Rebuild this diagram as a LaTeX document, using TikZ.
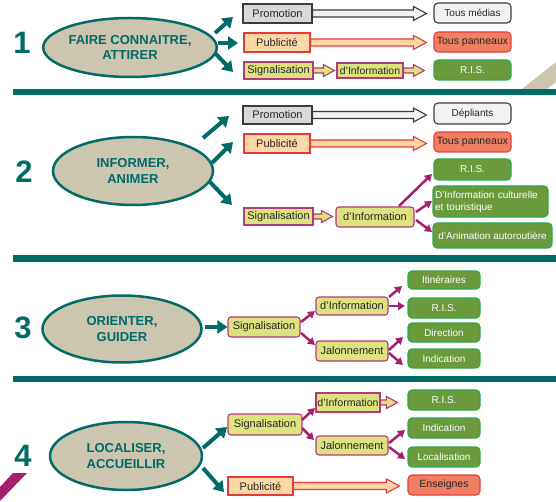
\documentclass[tikz,border=0pt]{standalone}
\usepackage{fontspec}
\setmainfont{Liberation Sans}
\usetikzlibrary{shapes.geometric,arrows.meta,calc}
\definecolor{teal1}{RGB}{0,107,103}
\definecolor{tan1}{RGB}{204,197,176}
\definecolor{mag1}{RGB}{166,31,110}
\definecolor{greyfill}{RGB}{216,216,216}
\definecolor{greydraw}{RGB}{60,60,60}
\definecolor{lightfill}{RGB}{242,242,242}
\definecolor{pubfill}{RGB}{253,215,166}
\definecolor{pubdraw}{RGB}{230,58,60}
\definecolor{sigfill}{RGB}{221,226,126}
\definecolor{sigdraw}{RGB}{178,58,125}
\definecolor{greenfill}{RGB}{107,154,60}
\definecolor{greendraw}{RGB}{45,168,74}
\definecolor{salfill}{RGB}{240,127,98}
\definecolor{saldraw}{RGB}{230,60,60}
\newcommand{\harr}[6]{\draw[#1] let \p1=(#2), \p2=(#3) in (\x1,\y1+#4) -- (\x2-#6,\y1+#4) -- (\x2-#6,\y1+#5) -- (\x2,\y1) -- (\x2-#6,\y1-#5) -- (\x2-#6,\y1-#4) -- (\x1,\y1-#4) -- cycle;}
\begin{document}
\begin{tikzpicture}[x=1pt,y=-1pt,
  boxbase/.style={draw, line width=1.1pt, inner sep=1pt, text=black!85, font=\fontsize{11}{13}\selectfont},
  greyb/.style={boxbase, fill=greyfill, draw=greydraw},
  lightb/.style={boxbase, rounded corners=4pt, fill=lightfill, draw=greydraw, font=\fontsize{10}{12}\selectfont},
  pubb/.style={boxbase, fill=pubfill, draw=pubdraw},
  sigb/.style={boxbase, fill=sigfill, draw=sigdraw},
  sigr/.style={sigb, rounded corners=3pt},
  greenb/.style={boxbase, rounded corners=4pt, fill=greenfill, draw=greendraw, text=white, font=\fontsize{10}{12}\selectfont},
  salb/.style={boxbase, rounded corners=4pt, fill=salfill, draw=saldraw, font=\fontsize{10.5}{12}\selectfont},
  ell/.style={ellipse, draw=teal1, line width=2.5pt, fill=tan1, inner sep=0pt, align=center, text=teal1, font=\fontsize{13}{15.5}\selectfont\bfseries},
  num/.style={text=teal1, font=\fontsize{31}{31}\selectfont\bfseries},
  band/.style={fill=teal1},
  tarr/.style={draw=teal1, line width=4pt, -{Triangle[length=10pt,width=13pt]}},
  marr/.style={draw=mag1, line width=2.5pt, -{Triangle[length=7pt,width=8pt]}},
  hgrey/.style={fill=lightfill, draw=greydraw, line width=1.1pt},
  hpub/.style={fill=pubfill, draw=pubdraw, line width=1.1pt},
  hsig/.style={fill=sigfill, draw=sigdraw, line width=1.1pt}
]
\useasboundingbox (0,0) rectangle (556,502);
% decorations
\fill[tan1] (522,89) -- (547,89) -- (556,82) -- (556,62) -- cycle;
\fill[mag1] (13,473) -- (27,473) -- (0,501) -- (0,487) -- cycle;
\fill[band] (13,89) rectangle (556,95);
\fill[band] (13,255) rectangle (556,262);
\fill[band] (13,376) rectangle (556,382);

% ===== Section 1 =====
\node[num] (n1) at (22,43) {1};
\node[ell, minimum width=170, minimum height=59] (e1) at (130,47.5) {FAIRE CONNAITRE,\\ATTIRER};
\node[greyb, minimum width=69, minimum height=19] (p1) at (277.5,13.5) {Promotion};
\node[pubb, minimum width=66, minimum height=19] (pub1) at (277,42.5) {Publicité};
\node[sigb, minimum width=69, minimum height=17] (sig1) at (278.5,70.5) {Signalisation};
\node[sigb, minimum width=66, minimum height=15, font=\fontsize{10.4}{12}\selectfont] (inf1) at (370,70.5) {d'Information};
\node[lightb, minimum width=77, minimum height=20] (tm1) at (472.5,13) {Tous médias};
\node[salb, minimum width=77, minimum height=20] (tp1) at (472.5,42) {Tous panneaux};
\node[greenb, minimum width=77, minimum height=20] (ris1) at (472.5,70) {R.I.S.};
\coordinate (a11s) at (215,33); \coordinate (a11e) at (233,17);
\coordinate (a12s) at (218,43); \coordinate (a12e) at (238,43);
\coordinate (a13s) at (215,53); \coordinate (a13e) at (233,72);
\draw[tarr] (a11s) -- (a11e);
\draw[tarr] (a12s) -- (a12e);
\draw[tarr] (a13s) -- (a13e);
\harr{hgrey}{p1.east}{$(tm1.west)+(-7,0)$}{3.5pt}{7pt}{13pt}
\harr{hpub}{pub1.east}{$(tp1.west)+(-7,0)$}{3.5pt}{7pt}{13pt}
\harr{hsig}{sig1.east}{$(inf1.west)+(-2,0)$}{2.5pt}{6pt}{11pt}
\harr{hsig}{inf1.east}{$(ris1.west)+(-9,0)$}{2.5pt}{6pt}{11pt}

% ===== Section 2 =====
\node[num] (n2) at (24,172) {2};
\node[ell, minimum width=160, minimum height=68] (e2) at (133,171) {INFORMER,\\ANIMER};
\node[greyb, minimum width=69, minimum height=18] (p2) at (277.5,115) {Promotion};
\node[pubb, minimum width=66, minimum height=19] (pub2) at (277,143.5) {Publicité};
\node[sigb, minimum width=69, minimum height=17] (sig2) at (278.5,216.5) {Signalisation};
\node[sigr, minimum width=78, minimum height=20] (inf2) at (375,217) {d'Information};
\node[lightb, minimum width=77, minimum height=21] (dep2) at (472.5,113.5) {Dépliants};
\node[salb, minimum width=77, minimum height=20] (tp2) at (472.5,142) {Tous panneaux};
\node[greenb, minimum width=77, minimum height=21] (ris2) at (472.5,169.5) {R.I.S.};
\node[greenb, minimum width=115, minimum height=31, text width=111, align=left, inner sep=2pt] (cult2) at (490.5,201.5) {D'Information culturelle\\et touristique};
\node[greenb, minimum width=119, minimum height=25, inner sep=0pt] (anim2) at (492.5,235.5) {d'Animation autoroutière};
\coordinate (a21s) at (203,138); \coordinate (a21e) at (229,116);
\coordinate (a22s) at (212,163); \coordinate (a22e) at (233,142);
\coordinate (a23s) at (210,182); \coordinate (a23e) at (232,205);
\draw[tarr] (a21s) -- (a21e);
\draw[tarr] (a22s) -- (a22e);
\draw[tarr] (a23s) -- (a23e);
\harr{hgrey}{p2.east}{$(dep2.west)+(-7,0)$}{3.5pt}{7pt}{13pt}
\harr{hpub}{pub2.east}{$(tp2.west)+(-7,0)$}{3.5pt}{7pt}{13pt}
\harr{hsig}{sig2.east}{$(inf2.west)+(-3,0)$}{2.5pt}{6pt}{11pt}
\coordinate (m21s) at (399,206); \coordinate (m21e) at (432,174);
\coordinate (m22s) at (416,212); \coordinate (m22e) at (432,201);
\coordinate (m23s) at (416,220); \coordinate (m23e) at (432,232);
\draw[marr] (m21s) -- (m21e);
\draw[marr] (m22s) -- (m22e);
\draw[marr] (m23s) -- (m23e);

% ===== Section 3 =====
\node[num] (n3) at (23,328) {3};
\node[ell, minimum width=159, minimum height=67] (e3) at (122,329) {ORIENTER,\\GUIDER};
\node[sigr, minimum width=72, minimum height=20] (sig3) at (264,327) {Signalisation};
\node[sigr, minimum width=72, minimum height=18] (inf3) at (352,306) {d'Information};
\node[sigr, minimum width=72, minimum height=20] (jal3) at (352,351) {Jalonnement};
\node[greenb, minimum width=72, minimum height=18] (it3) at (444,280) {Itinéraires};
\node[greenb, minimum width=72, minimum height=20] (ris3) at (444,308) {R.I.S.};
\node[greenb, minimum width=72, minimum height=19] (dir3) at (444,332.5) {Direction};
\node[greenb, minimum width=72, minimum height=19] (ind3) at (444,358.5) {Indication};
\coordinate (a31s) at (205,327);
\draw[tarr] (a31s) -- (sig3.west);
\coordinate (m31s) at (301,322); \coordinate (m31e) at (315,311);
\coordinate (m32s) at (301,333); \coordinate (m32e) at (315,345);
\coordinate (m33s) at (389,297); \coordinate (m33e) at (402,286);
\coordinate (m34s) at (389,306); \coordinate (m34e) at (405,306);
\coordinate (m35s) at (389,350); \coordinate (m35e) at (403,337);
\coordinate (m36s) at (389,353); \coordinate (m36e) at (403,365);
\draw[marr] (m31s) -- (m31e);
\draw[marr] (m32s) -- (m32e);
\draw[marr] (m33s) -- (m33e);
\draw[marr] (m34s) -- (m34e);
\draw[marr] (m35s) -- (m35e);
\draw[marr] (m36s) -- (m36e);

% ===== Section 4 =====
\node[num] (n4) at (23,456) {4};
\node[ell, minimum width=152, minimum height=68] (e4) at (126,456) {LOCALISER,\\ACCUEILLIR};
\node[sigr, minimum width=74, minimum height=21] (sig4) at (265,424.5) {Signalisation};
\node[pubb, minimum width=65, minimum height=18] (pub4) at (260.5,486) {Publicité};
\node[sigb, minimum width=64, minimum height=19, font=\fontsize{10.6}{12}\selectfont, inner sep=0pt] (inf4) at (348,402.5) {d'Information};
\node[sigr, minimum width=72, minimum height=19] (jal4) at (352,445.5) {Jalonnement};
\node[greenb, minimum width=72, minimum height=20] (ris4) at (444,400) {R.I.S.};
\node[greenb, minimum width=72, minimum height=20] (ind4) at (444,428) {Indication};
\node[greenb, minimum width=72, minimum height=20] (loc4) at (444,457) {Localisation};
\node[salb, minimum width=72, minimum height=20] (ens4) at (444,485) {Enseignes};
\coordinate (a41s) at (203,448); \coordinate (a41e) at (227,427);
\coordinate (a42s) at (203,468); \coordinate (a42e) at (224,492);
\draw[tarr] (a41s) -- (a41e);
\draw[tarr] (a42s) -- (a42e);
\harr{hsig}{inf4.east}{$(ris4.west)+(-10,0)$}{2.5pt}{6pt}{11pt}
\harr{hpub}{pub4.east}{$(ens4.west)+(-8,0)$}{3.5pt}{7pt}{13pt}
\coordinate (m41s) at (302,420); \coordinate (m41e) at (315,408);
\coordinate (m42s) at (302,428); \coordinate (m42e) at (314,440);
\coordinate (m43s) at (389,443); \coordinate (m43e) at (405,430);
\coordinate (m44s) at (389,447); \coordinate (m44e) at (405,459);
\draw[marr] (m41s) -- (m41e);
\draw[marr] (m42s) -- (m42e);
\draw[marr] (m43s) -- (m43e);
\draw[marr] (m44s) -- (m44e);
\end{tikzpicture}
\end{document}
